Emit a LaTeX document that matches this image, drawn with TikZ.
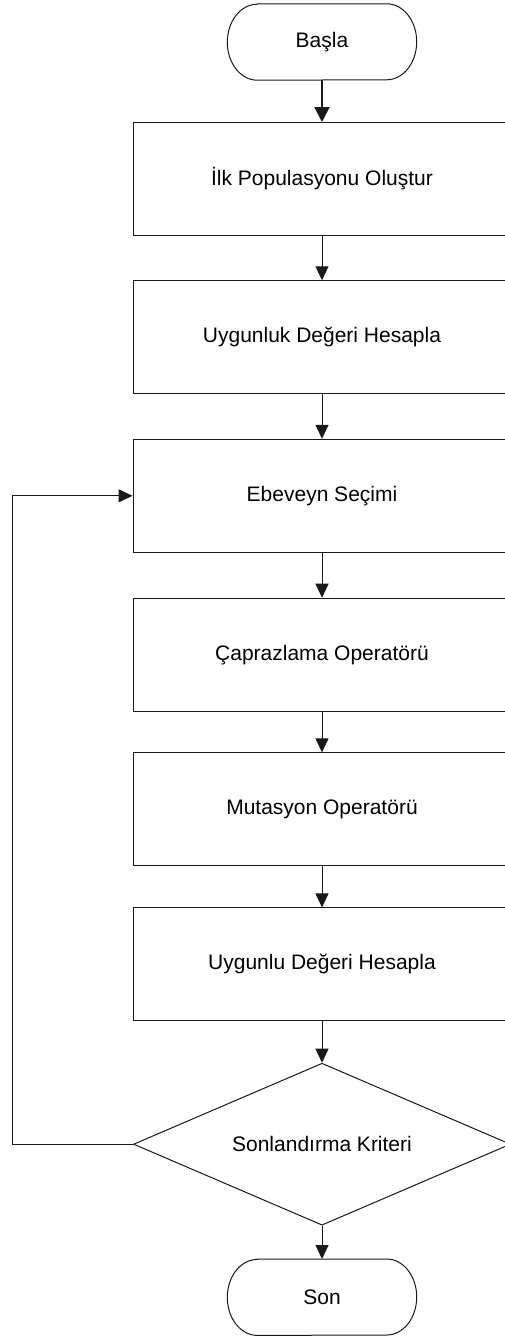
\documentclass[tikz,border=0pt]{standalone}
\usepackage{fontspec}
\setmainfont{Liberation Sans}
\usetikzlibrary{shapes.geometric,arrows.meta}
\begin{document}
\begin{tikzpicture}[x=1pt,y=-1pt,
  every node/.style={font=\fontsize{21}{25}\selectfont},
  procbox/.style={draw=black!90,line width=1pt,minimum width=378pt,minimum height=113pt,inner sep=0pt},
  termbox/.style={minimum width=189pt,minimum height=76pt,inner sep=0pt},
  termline/.style={draw=black!90,line width=1pt},
  decbox/.style={draw=black!90,diamond,shape aspect=2.33,minimum width=377pt,minimum height=162pt,inner sep=0pt,line width=1pt},
  flow/.style={draw=black!90,line width=1pt,-{Triangle[width=13pt,length=14pt]}},
]
\useasboundingbox (0,0) rectangle (505,1336);
\clip (0,0) rectangle (505,1336);
\fill[white] (0,0) rectangle (505,1336);

\node[termbox] (start) at (322,42) {Başla};
\node[procbox] (b1) at (322,179) {İlk Populasyonu Oluştur};
\node[procbox] (b2) at (322,337.3) {Uygunluk Değeri Hesapla};
\node[procbox] (b3) at (322,495.8) {Ebeveyn Seçimi};
\node[procbox] (b4) at (322,654.7) {Çaprazlama Operatörü};
\node[procbox] (b5) at (322,809.4) {Mutasyon Operatörü};
\node[procbox] (b6) at (322,964.4) {Uygunlu Değeri Hesapla};
\node[decbox] (dec) at (322,1144.2) {Sonlandırma Kriteri};
\node[termbox] (stop) at (322,1297.2) {Son};

\foreach \t in {start,stop}{
  \draw[termline] ([xshift=30pt]\t.north west) -- ([xshift=-30pt]\t.north east)
    arc[start angle=90,end angle=-90,x radius=30pt,y radius=38pt]
    -- ([xshift=30pt]\t.south west)
    arc[start angle=270,end angle=90,x radius=30pt,y radius=38pt] -- cycle;
}

\draw[flow,line width=2pt,-{Triangle[width=15pt,length=15pt]}] (start) -- (b1);
\draw[flow] (b1) -- (b2);
\draw[flow] (b2) -- (b3);
\draw[flow] (b3) -- (b4);
\draw[flow] (b4) -- (b5);
\draw[flow] (b5) -- (b6);
\draw[flow] (b6) -- (dec);
\draw[flow] (dec) -- (stop);
\draw[flow] (dec.west) -- ++(-121,0) |- (b3.west);
\end{tikzpicture}
\end{document}
